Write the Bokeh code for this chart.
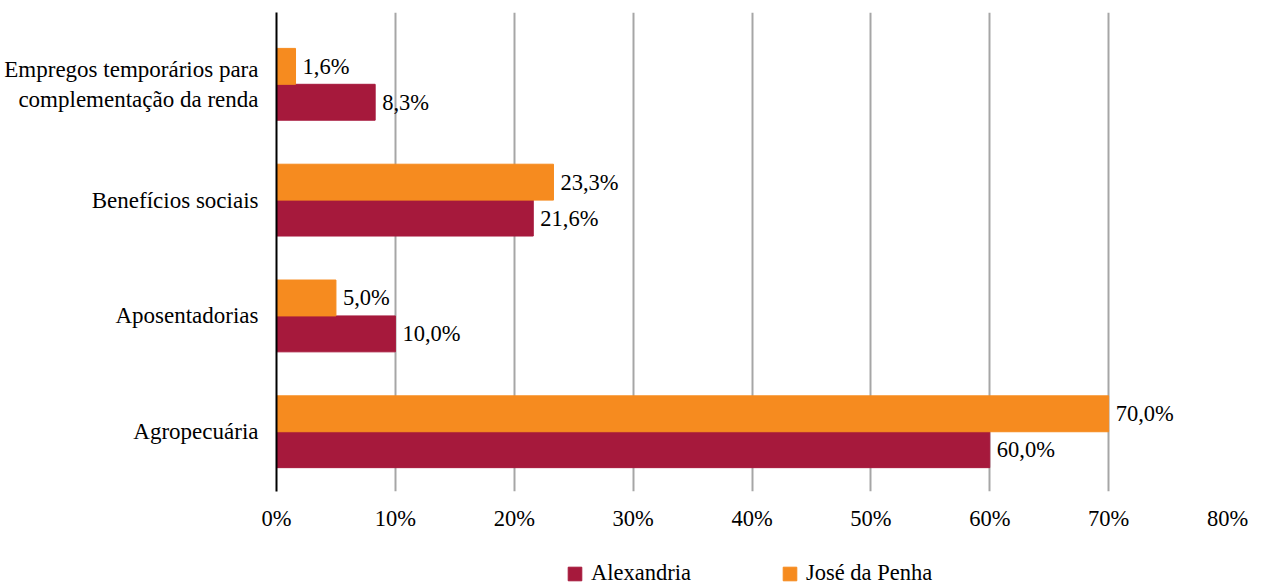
from bokeh.plotting import figure
from bokeh.layouts import column
from bokeh.models import ColumnDataSource, Legend, LegendItem, FixedTicker, NumeralTickFormatter
from bokeh.core.properties import value
from bokeh.embed import file_html
from bokeh.resources import INLINE

categories = ["Agropecuária", "Aposentadorias", "Benefícios sociais",
              "Empregos temporários para\ncomplementação da renda"]
alexandria = [60.0, 10.0, 21.6, 8.3]
jose_da_penha = [70.0, 5.0, 23.3, 1.6]
x_ticks = [0, 10, 20, 30, 40, 50, 60, 70, 80]

FONT = "Liberation Serif"
FS = "22.5px"
C_ALEX = "#A6193C"
C_JOSE = "#F68B1F"
BAR_H = 0.31

pos = list(range(len(categories)))
src_a = ColumnDataSource(dict(y=[p_ - BAR_H / 2 for p_ in pos], v=alexandria,
                              lab=[f"{v:.1f}%".replace(".", ",") for v in alexandria]))
src_j = ColumnDataSource(dict(y=[p_ + BAR_H / 2 for p_ in pos], v=jose_da_penha,
                              lab=[f"{v:.1f}%".replace(".", ",") for v in jose_da_penha]))

p = figure(width=1255, height=540, output_backend="svg", toolbar_location=None,
           x_range=(0, 80), y_range=(-0.516, 3.62),
           min_border_left=276, min_border_right=28, min_border_top=12, min_border_bottom=49)
p.outline_line_color = None

p.hbar(y="y", right="v", left=0, height=BAR_H, source=src_a, color=C_ALEX)
p.hbar(y="y", right="v", left=0, height=BAR_H, source=src_j, color=C_JOSE)

for s in (src_a, src_j):
    p.text(x="v", y="y", text="lab", source=s, x_offset=7, text_baseline="middle",
           text_align="left", text_font=value(FONT), text_font_size=FS, text_color="#000000")

p.xaxis.ticker = FixedTicker(ticks=x_ticks)
p.xaxis.formatter = NumeralTickFormatter(format="0")
p.xaxis.major_label_overrides = {t: f"{t}%" for t in x_ticks}
p.xaxis.axis_line_color = None
p.xaxis.major_tick_line_color = None
p.xaxis.minor_tick_line_color = None
p.xaxis.major_label_text_font = FONT
p.xaxis.major_label_text_font_size = FS
p.xaxis.major_label_text_color = "#000000"
p.xaxis.major_label_standoff = 8

p.yaxis.ticker = FixedTicker(ticks=pos)
p.yaxis.major_label_overrides = {i: c for i, c in enumerate(categories)}
p.yaxis.axis_line_color = "#000000"
p.yaxis.axis_line_width = 2
p.yaxis.major_tick_line_color = None
p.yaxis.minor_tick_line_color = None
p.yaxis.major_label_text_font = FONT
p.yaxis.major_label_text_font_size = "23px"
p.yaxis.major_label_text_color = "#000000"
p.yaxis.major_label_standoff = 12

p.xgrid.grid_line_color = "#A6A6A6"
p.xgrid.grid_line_width = 2
p.ygrid.grid_line_color = None

# legend strip below the chart (its own small figure so it is never clipped)
pl = figure(width=1255, height=66, output_backend="svg", toolbar_location=None,
            x_range=(1000, 1001), y_range=(1000, 1001),
            x_axis_type=None, y_axis_type=None, min_border=0)
pl.outline_line_color = None
pl.xgrid.visible = False
pl.ygrid.visible = False
la = pl.hbar(y="y", right="v", left=0, height=BAR_H, source=src_a, color=C_ALEX)
lj = pl.hbar(y="y", right="v", left=0, height=BAR_H, source=src_j, color=C_JOSE)

legend = Legend(items=[LegendItem(label="Alexandria", renderers=[la]),
                       LegendItem(label="José da Penha", renderers=[lj])],
                orientation="horizontal", location=(290, 20),
                label_text_font=FONT, label_text_font_size=FS, label_text_color="#000000",
                glyph_width=17, glyph_height=17, spacing=90, label_standoff=8,
                border_line_color=None, background_fill_alpha=0, margin=0, padding=0)
pl.add_layout(legend, "center")

layout = column(p, pl, spacing=0)
open("out.html", "w").write(file_html(layout, INLINE))
